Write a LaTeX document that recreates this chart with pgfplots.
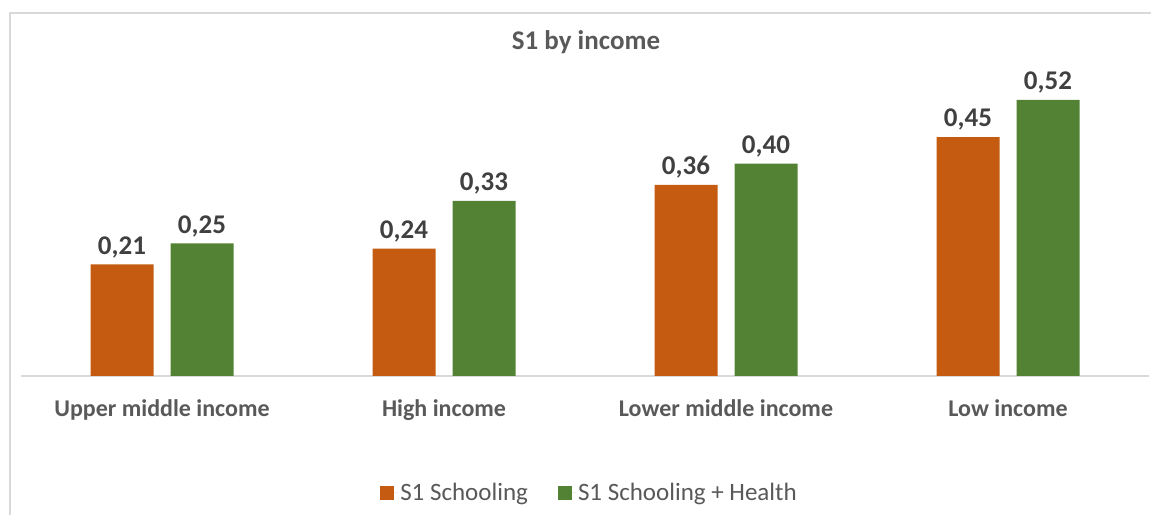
\documentclass[border=0pt]{standalone}
\usepackage{pgfplots}
\pgfplotsset{compat=1.18}
\usepackage{fontspec}
\setmainfont{Carlito}
\definecolor{cOrange}{HTML}{C55A11}
\definecolor{cGreen}{HTML}{548235}
\definecolor{cFrame}{HTML}{D9D9D9}
\definecolor{cLabel}{HTML}{595959}
\definecolor{cData}{HTML}{404040}
\begin{document}
\begin{tikzpicture}[x=1pt,y=1pt]
\useasboundingbox (0,0) rectangle (1151,514);
\draw[cFrame, line width=1.2pt] (10,-20) -- (10,501) -- (1170,501);
\node[font=\fontsize{27}{31}\selectfont\bfseries, text=cLabel] at (586,472) {S1 by income};
\begin{axis}[
  at={(21pt,138pt)}, anchor=south west,
  scale only axis, width=1128pt, height=318.6pt,
  xmin=-0.5, xmax=3.5, ymin=0, ymax=0.6,
  axis x line=bottom, axis y line=none,
  x axis line style={-, draw=cFrame, line width=1.5pt},
  xtick={0,1,2,3}, xtick style={draw=none},
  xticklabels={Upper middle income, High income, Lower middle income, Low income},
  xticklabel style={font=\fontsize{24}{28}\selectfont\bfseries, text=cLabel, yshift=-16pt},
  ybar, bar width=63pt,
  nodes near coords,
  every node near coord/.append style={font=\fontsize{27}{31}\selectfont\bfseries, text=cData, yshift=3pt,
    /pgf/number format/.cd, fixed, fixed zerofill, precision=2, use comma, assume math mode=true},
  legend columns=2,
  legend style={at={(0.504,-0.367)}, anchor=center, draw=none, font=\fontsize{25}{30}\selectfont, text=cLabel,
    /tikz/every even column/.append style={column sep=28pt}},
  legend image code/.code={\fill[#1] (0pt,-7pt) rectangle (14pt,7pt); \path (0pt,0pt) -- (18pt,0pt);},
]
\addplot[fill=cOrange, draw=none, bar shift=-40pt] coordinates {(0,0.21) (1,0.24) (2,0.36) (3,0.45)};
\addplot[fill=cGreen, draw=none, bar shift=40pt] coordinates {(0,0.25) (1,0.33) (2,0.40) (3,0.52)};
\legend{S1 Schooling, S1 Schooling + Health}
\end{axis}
\end{tikzpicture}
\end{document}
